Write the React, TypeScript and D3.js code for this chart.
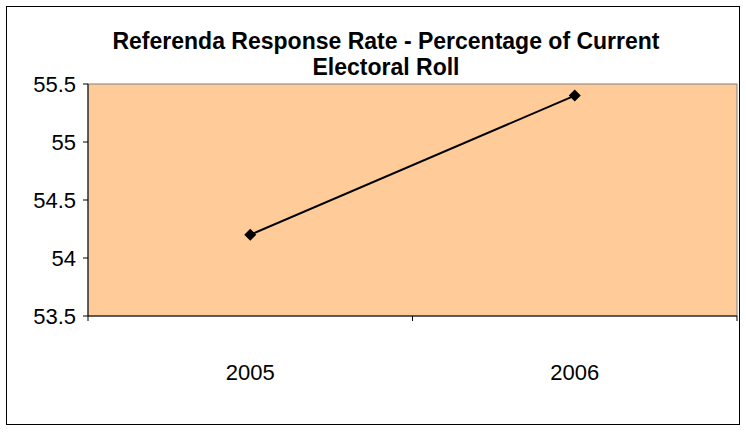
import React from "react";
import * as d3 from "d3";

const categories = ["2005", "2006"];
const values = [54.2, 55.4];
const yTicks = [53.5, 54, 54.5, 55, 55.5];
const titleLines = ["Referenda Response Rate - Percentage of Current", "Electoral Roll"];

const W = 746;
const H = 432;
const plot = { left: 88, right: 737, top: 84, bottom: 316 };

export default function App() {
  const x = d3.scaleBand<string>().domain(categories).range([plot.left, plot.right]).padding(0);
  const y = d3.scaleLinear().domain([53.5, 55.5]).range([plot.bottom, plot.top]);
  const line = d3
    .line<number>()
    .x((_, i) => (x(categories[i]) as number) + x.bandwidth() / 2)
    .y((d) => y(d));
  const xTickPos = [plot.left, ...categories.map((c) => (x(c) as number) + x.bandwidth())];
  const font = "Arial, 'Liberation Sans', sans-serif";
  return (
    <svg width={W} height={H} style={{ position: "absolute", left: 0, top: 0 }}>
      <rect x={0} y={0} width={W} height={H} fill="#fff" />
      <rect x={6.5} y={6.5} width={733} height={418} fill="#fff" stroke="#000" strokeWidth={1} />
      {titleLines.map((t, i) => (
        <text key={i} x={386} y={49 + i * 26} textAnchor="middle" fontFamily={font} fontWeight="bold" fontSize={23} fill="#000">
          {t}
        </text>
      ))}
      <rect x={plot.left} y={plot.top} width={plot.right - plot.left} height={plot.bottom - plot.top} fill="#FFCC99" stroke="#808080" strokeWidth={1} />
      <line x1={plot.left} x2={plot.left} y1={plot.top} y2={plot.bottom} stroke="#000" />
      <line x1={plot.left} x2={plot.right} y1={plot.bottom} y2={plot.bottom} stroke="#000" />
      {yTicks.map((t) => (
        <g key={t}>
          <line x1={plot.left - 5} x2={plot.left} y1={y(t)} y2={y(t)} stroke="#000" />
          <text x={plot.left - 12} y={y(t)} dy="0.35em" textAnchor="end" fontFamily={font} fontSize={22} fill="#000">
            {t}
          </text>
        </g>
      ))}
      {xTickPos.map((p, i) => (
        <line key={i} x1={p} x2={p} y1={plot.bottom} y2={plot.bottom + 5} stroke="#000" />
      ))}
      {categories.map((c) => (
        <text key={c} x={(x(c) as number) + x.bandwidth() / 2} y={plot.bottom + 56} dy="0.35em" textAnchor="middle" fontFamily={font} fontSize={22} fill="#000">
          {c}
        </text>
      ))}
      <path d={line(values) || ""} fill="none" stroke="#000" strokeWidth={2} />
      {values.map((v, i) => {
        const cx = (x(categories[i]) as number) + x.bandwidth() / 2;
        const cy = y(v);
        return <path key={i} d={`M${cx},${cy - 6}L${cx + 6},${cy}L${cx},${cy + 6}L${cx - 6},${cy}Z`} fill="#000" />;
      })}
    </svg>
  );
}
